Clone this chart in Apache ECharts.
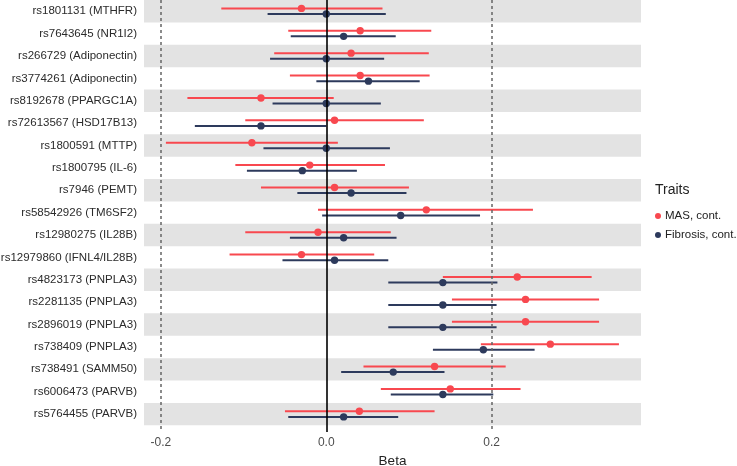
<!DOCTYPE html>
<html>
<head>
<meta charset="utf-8">
<script src="https://cdn.jsdelivr.net/npm/echarts@6/dist/echarts.min.js"></script>
<style>html,body{margin:0;padding:0;background:#fff;}#c{width:737px;height:466px;}</style>
</head>
<body>
<div id="c"></div>
<script>
const snps = ["rs1801131 (MTHFR)","rs7643645 (NR1I2)","rs266729 (Adiponectin)","rs3774261 (Adiponectin)","rs8192678 (PPARGC1A)","rs72613567 (HSD17B13)","rs1800591 (MTTP)","rs1800795 (IL-6)","rs7946 (PEMT)","rs58542926 (TM6SF2)","rs12980275 (IL28B)","rs12979860 (IFNL4/IL28B)","rs4823173 (PNPLA3)","rs2281135 (PNPLA3)","rs2896019 (PNPLA3)","rs738409 (PNPLA3)","rs738491 (SAMM50)","rs6006473 (PARVB)","rs5764455 (PARVB)"];
const masEst = [-0.030,0.041,0.030,0.041,-0.079,0.010,-0.090,-0.020,0.010,0.121,-0.010,-0.030,0.231,0.241,0.241,0.271,0.131,0.150,0.040];
const masLo  = [-0.127,-0.046,-0.063,-0.044,-0.168,-0.098,-0.194,-0.110,-0.079,-0.010,-0.098,-0.117,0.141,0.152,0.152,0.187,0.045,0.066,-0.050];
const masHi  = [0.068,0.127,0.124,0.125,0.009,0.118,0.014,0.071,0.100,0.250,0.078,0.058,0.321,0.330,0.330,0.354,0.217,0.235,0.131];
const fibEst = [0.000,0.021,0.000,0.051,0.000,-0.079,0.000,-0.029,0.030,0.090,0.021,0.010,0.141,0.141,0.141,0.190,0.081,0.141,0.021];
const fibLo  = [-0.071,-0.043,-0.068,-0.012,-0.065,-0.159,-0.076,-0.096,-0.035,-0.005,-0.044,-0.053,0.075,0.075,0.075,0.129,0.018,0.078,-0.046];
const fibHi  = [0.072,0.084,0.070,0.113,0.066,0.000,0.077,0.037,0.097,0.186,0.085,0.075,0.207,0.206,0.206,0.252,0.143,0.202,0.087];
const xTicks = [-0.2, 0.0, 0.2];
const traitNames = ["MAS, cont.", "Fibrosis, cont."];

const RED = '#F8484F', BLUE = '#2D3A5C';
const FONT = 'Liberation Sans, Arial, sans-serif';

function mk(est, lo, hi) { return est.map((e, i) => [i, e, lo[i], hi[i]]); }

function renderer(offset, color) {
  return function (params, api) {
    const row = api.value(0);
    const p0 = api.coord([api.value(2), row + offset]);
    const p1 = api.coord([api.value(3), row + offset]);
    const pc = api.coord([api.value(1), row + offset]);
    return {
      type: 'group',
      children: [
        { type: 'line', shape: { x1: p0[0], y1: p0[1], x2: p1[0], y2: p1[1] }, style: { stroke: color, lineWidth: 2 } },
        { type: 'circle', shape: { cx: pc[0], cy: pc[1], r: 3.7 }, style: { fill: color } }
      ]
    };
  };
}

const bands = [];
for (let i = 0; i < snps.length; i += 2) bands.push([{ yAxis: i - 0.5 }, { yAxis: i + 0.5 }]);

const chart = echarts.init(document.getElementById('c'));
chart.setOption({
  animation: false,
  backgroundColor: '#fff',
  textStyle: { fontFamily: FONT },
  grid: { left: 144, right: 96, top: 0, bottom: 34, containLabel: false, outerBoundsMode: 'none' },
  graphic: [{ type: 'text', left: 655, top: 183, style: { text: 'Traits', fontSize: 14, fill: '#222', fontFamily: FONT } }],
  legend: {
    data: traitNames.map((n, k) => ({ name: n, icon: 'circle', itemStyle: { color: k ? BLUE : RED } })),
    orient: 'vertical', left: 650, top: 205, itemWidth: 6, itemHeight: 6, itemGap: 7,
    textStyle: { fontSize: 11.5, color: '#222', fontFamily: FONT, padding: [0, 0, 0, -1] }
  },
  xAxis: {
    type: 'value', min: -0.2205, max: 0.3807,
    name: 'Beta', nameLocation: 'middle', nameGap: 21,
    nameTextStyle: { fontSize: 13.5, color: '#222', fontFamily: FONT },
    axisLine: { show: false }, axisTick: { show: false }, splitLine: { show: false },
    axisLabel: { customValues: xTicks, formatter: v => v.toFixed(1), fontSize: 12, color: '#4d4d4d', margin: 5, fontFamily: FONT }
  },
  yAxis: {
    type: 'value', inverse: true, min: -0.5, max: 18.8,
    axisLine: { show: false }, axisTick: { show: false }, splitLine: { show: false },
    axisLabel: { customValues: snps.map((s, i) => i), formatter: v => snps[Math.round(v)] || '', fontSize: 11.5, color: '#2b2b2b', margin: 7, fontFamily: FONT }
  },
  series: [
    { type: 'line', data: [], z: 1, silent: true,
      markArea: { silent: true, itemStyle: { color: '#E3E3E3' }, data: bands } },
    { type: 'line', data: [], z: 2, silent: true,
      markLine: { silent: true, symbol: 'none', label: { show: false },
        data: [
          { xAxis: -0.2, lineStyle: { color: '#666', type: [3, 3], width: 1.5 } },
          { xAxis: 0.2, lineStyle: { color: '#666', type: [3, 3], width: 1.5 } },
          { xAxis: 0, lineStyle: { color: '#000', type: 'solid', width: 1.6 } }
        ] } },
    { name: traitNames[0], type: 'custom', z: 3, itemStyle: { color: RED }, renderItem: renderer(-0.125, RED),
      encode: { x: [1, 2, 3], y: 0 }, data: mk(masEst, masLo, masHi) },
    { name: traitNames[1], type: 'custom', z: 3, itemStyle: { color: BLUE }, renderItem: renderer(0.125, BLUE),
      encode: { x: [1, 2, 3], y: 0 }, data: mk(fibEst, fibLo, fibHi) }
  ]
});
</script>
</body>
</html>
